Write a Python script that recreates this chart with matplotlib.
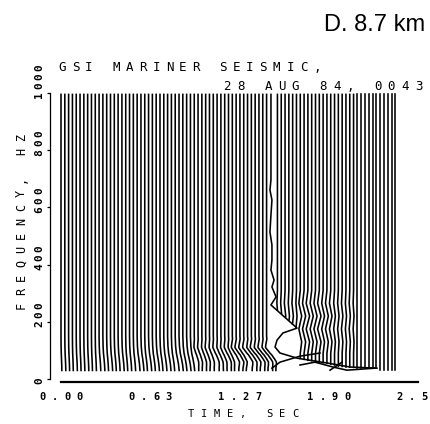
import numpy as np
import matplotlib
matplotlib.use("Agg")
import matplotlib.pyplot as plt
from matplotlib import transforms as mtrans

# ---- data ----
# start times (s) of the traces left of the disturbed one
left_t = [0.000, 0.027, 0.054, 0.081, 0.108, 0.135, 0.162, 0.189, 0.216, 0.243,
          0.270, 0.297, 0.324, 0.351, 0.378, 0.405, 0.432, 0.459, 0.486, 0.513,
          0.540, 0.567, 0.594, 0.621, 0.648, 0.675, 0.702, 0.729, 0.756, 0.783,
          0.810, 0.837, 0.864, 0.891, 0.918, 0.945, 0.972, 0.999, 1.026, 1.053,
          1.080, 1.107, 1.134, 1.161, 1.188, 1.215, 1.242, 1.269, 1.296, 1.323,
          1.350, 1.377, 1.404, 1.431, 1.458]
# low-frequency bend at the bottom of each left trace (s)
left_amp = [0.006, 0.007, 0.007, 0.006, 0.008, 0.007, 0.007, 0.008, 0.007, 0.008,
            0.012, 0.014, 0.013, 0.015, 0.014, 0.014, 0.016, 0.014, 0.015, 0.016,
            0.020, 0.021, 0.019, 0.022, 0.021, 0.023, 0.021, 0.022, 0.024, 0.023,
            0.028, 0.030, 0.029, 0.031, 0.030, 0.032, 0.030, 0.033, 0.031, 0.034,
            0.042, 0.045, 0.044, 0.047, 0.043, 0.046, 0.048, 0.045, 0.060, 0.066,
            0.063, 0.068, 0.064, 0.070, 0.066]
left_sway = [0.0] * 35 + [0.010, 0.012, 0.011, 0.013, 0.012, 0.014, 0.012, 0.013,
                          0.015, 0.014, 0.022, 0.025, 0.024, 0.026, 0.023, 0.027,
                          0.025, 0.026, 0.024, 0.027]

# traces right of the disturbed one
right_t = [1.535, 1.562, 1.589, 1.616, 1.643, 1.670, 1.697, 1.724, 1.751, 1.778,
           1.805, 1.832, 1.859, 1.886, 1.913, 1.940, 1.967, 1.994, 2.021, 2.048,
           2.075, 2.102, 2.129, 2.156, 2.183, 2.210, 2.237, 2.264, 2.291, 2.318,
           2.345, 2.372]
right_fend = [241, 229, 217, 205, 192, 180, 72, 69, 66, 64,
              62, 59, 57, 56, 52, 49, 45, 44, 42, 42,
              41, 40, 40, 38, 38, 38, 38, 30, 30, 30,
              30, 30]
right_wig = [0.004, 0.004, 0.005, 0.004, 0.005, 0.004, 0.010, 0.011, 0.012, 0.011,
             0.011, 0.012, 0.010, 0.010, 0.009, 0.006, 0.005, 0.005, 0.004, 0.004,
             0.003, 0.0, 0.0, 0.0, 0.0, 0.0, 0.0, 0.0, 0.0, 0.0, 0.0, 0.0]

# shape of the bends (freq, fraction of amplitude)
bend_f = [995, 150, 115, 90, 70, 50, 30]
bend_w = [0, 0, 0.1, 0.3, 0.6, 0.85, 1.0]
sway_f = [995, 140, 110, 85, 60, 40, 30]
sway_w = [0, 0, -0.6, 0.4, 0.8, 0.2, 0]
wig_f = [995, 310, 265, 220, 175, 130, 90, 30]
wig_w = [0, 0, -1, 1, -1, 1, 0, 0]

# disturbed trace and the hook it forms
anom_t = [1.489, 1.489, 1.482, 1.496, 1.489, 1.482, 1.496, 1.496, 1.489, 1.511,
          1.496, 1.525, 1.489, 1.674, 1.574, 1.532, 1.518, 1.553, 1.674, 1.887,
          2.050, 2.241]
anom_f = [995, 696, 661, 626, 573, 514, 469, 416, 381, 346,
          322, 287, 259, 178, 161, 136, 112, 91, 73, 56,
          42, 38]
segA_t = [1.496, 1.553, 1.695, 1.837]
segA_f = [38, 59, 80, 91]
segB_t = [1.695, 1.801, 1.929, 2.028, 2.227]
segB_f = [49, 59, 42, 31, 38]
segC_t = [1.908, 1.993]
segC_f = [31, 59]

xticks = [0.0, 0.633, 1.267, 1.9, 2.533]
xticklabels = ["0.00", "0.63", "1.27", "1.90", "2.5"]
yticks = [0, 200, 400, 600, 800, 1000]


def trace(t0, f_end, parts):
    f = sorted(set([v for v in bend_f + sway_f + wig_f if v > f_end] + [f_end]), reverse=True)
    f = np.array(f, dtype=float)
    off = np.zeros_like(f)
    for a, pf, pw in parts:
        off += a * np.interp(f, pf[::-1], pw[::-1])
    return t0 + off, f


fig = plt.figure(figsize=(4.30, 4.24), dpi=100)
ax = fig.add_axes([0.1163, 0.0858, 0.8781, 0.6949])
ax.set_xlim(-0.078, 2.6)
ax.set_ylim(-30, 1000)

lw = 1.15
for t0, a, s in zip(left_t, left_amp, left_sway):
    x, y = trace(t0, 30, [(a, bend_f, bend_w), (s, sway_f, sway_w)])
    ax.plot(x, y, color="black", lw=lw)
for t0, fe, w in zip(right_t, right_fend, right_wig):
    x, y = trace(t0, fe, [(w, wig_f, wig_w)])
    ax.plot(x, y, color="black", lw=lw)
ax.plot(anom_t, anom_f, color="black", lw=lw)
for st, sf in [(segA_t, segA_f), (segB_t, segB_f), (segC_t, segC_f)]:
    ax.plot(st, sf, color="black", lw=lw)

for side in ["top", "right", "bottom"]:
    ax.spines[side].set_visible(False)
ax.spines["left"].set_bounds(0, 1000)
ax.spines["left"].set_linewidth(0.9)
ax.set_xticks([])
ax.set_yticks(yticks)
ax.tick_params(axis="y", length=2.5, width=0.9, labelleft=False)
ax.plot([xticks[0], xticks[-1]], [-12, -12], color="black", lw=1.6, clip_on=False)


def spaced(s, x, y, trans, pitch, size, rot=0, weight="normal", start=None):
    # plotter style lettering: one glyph per fixed step
    n = len(s)
    if start is None:
        start = -(n - 1) / 2 * pitch
    for k, ch in enumerate(s):
        d = start + k * pitch
        dx, dy = (d, 0) if rot == 0 else (0, d)
        tr = mtrans.offset_copy(trans, fig=fig, x=dx, y=dy, units="dots")
        fig.text(x, y, ch, transform=tr, ha="center", va="baseline",
                 rotation=rot, rotation_mode="anchor", fontsize=size,
                 fontweight=weight, family="DejaVu Sans Mono")


W, H = 430.0, 424.0
xt = mtrans.blended_transform_factory(ax.transData, fig.transFigure)
for v, lab in zip(xticks, xticklabels):
    # labels are 4-glyph slots centred on the tick; the last runs off the page
    spaced(lab, v, 1 - 400 / H, xt, 12.3, 7.5, weight="bold", start=-1.5 * 12.3)
yt = mtrans.blended_transform_factory(fig.transFigure, ax.transData)
for v in yticks:
    spaced(str(v), 42 / W, v, yt, 9.2, 8, rot=90, weight="bold", start=-2)

spaced("TIME, SEC", 243 / W, 1 - 417 / H, fig.transFigure, 13, 7.5)
spaced("FREQUENCY, HZ", 25 / W, 1 - 221.5 / H, fig.transFigure, 14, 8.5, rot=90)
spaced("GSI MARINER SEISMIC,", 189.5 / W, 1 - 71 / H, fig.transFigure, 13.4, 9)
spaced("28 AUG 84, 0043", 323 / W, 1 - 90 / H, fig.transFigure, 13.7, 9)

fig.text(425 / W, 1 - 31 / H, "D. 8.7 km", ha="right", va="baseline",
         fontsize=17, family="Liberation Sans")

fig.savefig("out.png", dpi=100)
